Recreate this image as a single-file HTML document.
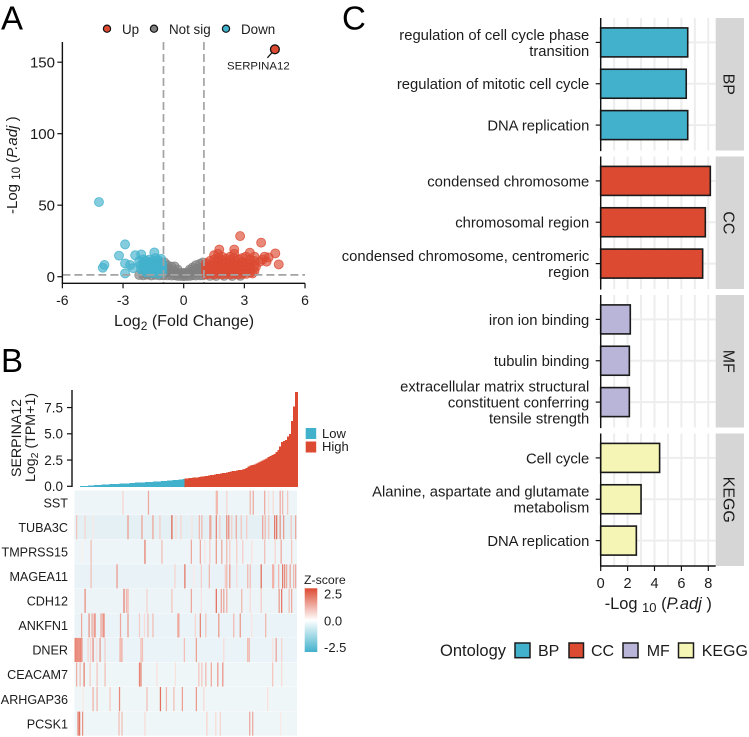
<!DOCTYPE html>
<html lang="en">
<head>
<meta charset="utf-8">
<title>Multi-panel SERPINA12 figure</title>
<style>
html,body{margin:0;padding:0;background:#fff;}
svg{display:block;font-family:"Liberation Sans",sans-serif;fill:#1c1c1c;}
</style>
</head>
<body>
<svg id="fig" xmlns="http://www.w3.org/2000/svg" width="749" height="737" viewBox="0 0 749 737">
  <rect x="0" y="0" width="749" height="737" fill="#fff"/>
  <text x="1" y="29.5" font-size="33" fill="#000">A</text>
  <text x="1" y="372" font-size="33" fill="#000">B</text>
  <text x="342" y="29.5" font-size="33" fill="#000">C</text>

  <g id="volcano"></g>
  <g font-size="13.4">
    <circle cx="107" cy="28.7" r="3.6" fill="#dc4a32" stroke="#111" stroke-width="1.2"/>
    <text x="122" y="34">Up</text>
    <circle cx="154" cy="28.7" r="3.6" fill="#808080" stroke="#111" stroke-width="1.2"/>
    <text x="169" y="34">Not sig</text>
    <circle cx="226" cy="28.7" r="3.6" fill="#42b1cc" stroke="#111" stroke-width="1.2"/>
    <text x="241" y="34">Down</text>
  </g>
  <text x="227" y="69.3" font-size="11.4">SERPINA12</text>
  <text x="114" y="326" font-size="16">Log<tspan font-size="12" dy="4">2</tspan><tspan dy="-4"> (Fold Change)</tspan></text>
  <text transform="translate(17,214) rotate(-90)" font-size="15">-Log <tspan font-size="11.5" dy="3">10</tspan><tspan dy="-3"> (</tspan><tspan font-style="italic">P.adj</tspan> )</text>

  <g id="expr"></g>
  <text transform="translate(21,477) rotate(-90)" font-size="14.2">SERPINA12</text>
  <text transform="translate(35,482) rotate(-90)" font-size="14.2">Log<tspan font-size="10.5" dy="3">2</tspan><tspan dy="-3"> (TPM+1)</tspan></text>
  <g font-size="13">
    <rect x="305.7" y="428" width="10.5" height="11" fill="#42b1cc"/>
    <rect x="305.7" y="441.5" width="10.5" height="11" fill="#dc4a32"/>
    <text x="322" y="438">Low</text>
    <text x="322" y="451">High</text>
  </g>

  <g id="heat"></g>
  <defs>
    <linearGradient id="zGrad" x1="0" y1="0" x2="0" y2="1">
      <stop offset="0" stop-color="#dc4a32"/>
      <stop offset="0.5" stop-color="#ffffff"/>
      <stop offset="1" stop-color="#42b1cc"/>
    </linearGradient>
  </defs>
  <g>
    <text x="304" y="584" font-size="12.3">Z-score</text>
    <rect x="304.7" y="588.3" width="12.6" height="63.7" fill="url(#zGrad)"/>
    <g font-size="13">
      <text x="324" y="598.5">2.5</text>
      <text x="324" y="625.5">0.0</text>
      <text x="324" y="652">-2.5</text>
    </g>
  </g>

  <g id="enrich"></g>
  <text x="604.7" y="609" font-size="16.4">-Log <tspan font-size="13" dy="3">10</tspan><tspan dy="-3"> (</tspan><tspan font-style="italic">P.adj</tspan> )</text>
  <g font-size="16">
    <text x="440" y="656" font-size="16.5">Ontology</text>
    <rect x="515" y="643" width="15" height="14.7" fill="#42b1cc" stroke="#1c1c1c" stroke-width="1.5"/>
    <text x="538" y="656">BP</text>
    <rect x="569" y="643" width="14.5" height="14.7" fill="#dc4a32" stroke="#1c1c1c" stroke-width="1.5"/>
    <text x="591" y="656">CC</text>
    <rect x="623" y="643" width="15" height="14.7" fill="#b9b5d8" stroke="#1c1c1c" stroke-width="1.5"/>
    <text x="646.7" y="656">MF</text>
    <rect x="678.5" y="643" width="15" height="14.7" fill="#f5f5b5" stroke="#1c1c1c" stroke-width="1.5"/>
    <text x="701.7" y="656">KEGG</text>
  </g>
</svg>

<script>
/* ---------- Panel A data: [log2FC, -log10 padj] ---------- */
const volcanoXTicks = [-6, -3, 0, 3, 6];
const volcanoYTicks = [0, 50, 100, 150];
const fcThresholds = [-1, 1];
const padjThreshold = 1.3;
const labelledPoint = [4.51, 159];
const notSigPoints = [
[-2.2,1.2],[-2,1],[-1.8,1.4],[-1.6,0.9],[-1.4,1.2],[-1.2,1],
[-1,1],[-1,3],[-1,5],[-1,7.5],[-0.95,10],[-0.8,1],[-0.8,3],[-0.8,5.5],[-0.8,8],
[-0.6,0.8],[-0.6,3],[-0.6,5],[-0.6,7],[-0.45,1],[-0.45,3.5],[-0.45,7.2],
[-0.3,0.6],[-0.3,2.5],[-0.3,5],[-0.15,0.5],[-0.15,2.5],[0,0.4],[0,1.8],[0,2.7],
[0.15,0.5],[0.15,2.5],[0.3,0.6],[0.3,3.5],[0.3,5],[0.45,1],[0.45,3.5],[0.45,6.5],
[0.6,0.8],[0.6,3],[0.6,5.5],[0.6,8],[0.8,1],[0.8,3.5],[0.8,6],[0.8,9],[0.95,1],[0.95,3.5],[0.95,6],[0.95,10],
[1.3,0.6],[1.6,0.5],[2,0.6],[2.4,0.5],[2.8,0.6]
];
const downPoints = [
[-4.19,52.2],[-2.9,22.6],[-3.2,14.7],[-2.9,9.3],[-2.9,2.3],[-3.92,8.2],[-4,6.3],[-2.65,8.2],[-2.4,15],[-2.1,15.6],[-1.45,17],
[-2.5,6],[-2.2,11],[-2.15,8],[-2.1,5],[-2,12],[-2,9.5],[-2,7],[-2,4],
[-1.85,11],[-1.85,8.5],[-1.85,6],[-1.85,3],[-1.7,12],[-1.7,9.5],[-1.7,7],[-1.7,4.5],
[-1.55,11],[-1.55,8.5],[-1.55,5.5],[-1.55,2.5],[-1.4,13],[-1.4,10],[-1.4,7],[-1.4,4],
[-1.25,11.5],[-1.25,9],[-1.25,6],[-1.25,2],[-1.12,12.5],[-1.12,10],[-1.12,7.5],[-1.12,4.5],[-1.05,9],[-1.05,6],[-1.05,3]
];
const upPoints = [
[2.79,28.4],[3.83,23.8],[4.53,16.3],[4.7,8.6],[1.76,19],[2.5,19],[3.27,16.8],[4,14],[3.78,10.5],[3.5,14],[3.07,14],[3.4,2.3],[3.57,7],[4.1,10.5],[3.9,12],[4.2,13.5],
[1.1,1.5],[1.1,4],[1.1,7],[1.1,9.5],[1.3,2],[1.3,5],[1.3,8],[1.3,11],
[1.5,1.5],[1.5,4],[1.5,6.5],[1.5,9],[1.5,12],[1.5,15],[1.7,2],[1.7,5],[1.7,7.5],[1.7,10.5],[1.7,13],[1.7,16],
[1.9,1.5],[1.9,3.5],[1.9,6],[1.9,9],[1.9,11.5],[1.9,14],[2.1,2],[2.1,4.5],[2.1,7],[2.1,10],[2.1,12.5],
[2.3,1.5],[2.3,4],[2.3,6.5],[2.3,9],[2.3,11.5],[2.3,14],[2.5,2],[2.5,5],[2.5,7.5],[2.5,10],[2.5,13],[2.5,16],
[2.7,1.5],[2.7,4],[2.7,6.5],[2.7,9],[2.7,12],[2.9,2],[2.9,5],[2.9,8],[2.9,10.5],[2.9,13],
[3.1,2],[3.1,4.5],[3.1,7.5],[3.1,10],[3.3,3],[3.3,6],[3.3,9],[3.3,12],[3.5,4],[3.5,8],[3.5,11]
];

/* ---------- Panel B bars: expression per ordered sample bin ---------- */
const lowExpression = [0.01,0.02,0.04,0.05,0.07,0.08,0.10,0.11,0.12,0.13,0.14,0.16,0.17,0.18,0.19,0.20,0.21,0.22,0.23,0.24,0.25,0.26,0.27,0.28,0.29,0.30,0.31,0.33,0.34,0.35,0.36,0.37,0.38,0.39,0.40,0.42,0.43,0.44,0.45,0.47,0.48,0.50,0.51,0.52,0.54,0.55,0.57,0.58,0.60,0.62,0.64,0.67,0.71];
const highExpression = [0.73,0.75,0.77,0.79,0.82,0.84,0.86,0.88,0.91,0.94,0.97,1.0,1.03,1.06,1.09,1.13,1.16,1.18,1.21,1.25,1.28,1.32,1.36,1.40,1.44,1.47,1.5,1.53,1.56,1.6,1.66,1.75,1.9,2.0,2.05,2.1,2.15,2.25,2.35,2.45,2.55,2.65,2.8,2.9,3.0,3.1,3.25,3.45,3.8,4.2,4.3,4.4,4.75,5.0,6.2,7.6,9.0];
const exprTicks = ["0.0","2.5","5.0","7.5"];

/* ---------- Panel B heatmap: baseline z per gene and [sample, z] for raised samples ---------- */
const geneNames = ["SST","TUBA3C","TMPRSS15","MAGEA11","CDH12","ANKFN1","DNER","CEACAM7","ARHGAP36","PCSK1"];
const geneBaseline = [-0.24,-0.36,-0.24,-0.3,-0.26,-0.28,-0.28,-0.22,-0.22,-0.22];
const sstZ = [[48,0.6],[73.5,1.2],[141.5,1],[142.5,1],[152,0.6],[175.5,1],[178.5,1.2],[190,1.2],[194,0.4],[198.5,0.5],[205.5,1.2],[208,1],[213,0.8]];
const tuba3cZ = [[1.5,0.8],[10,0.6],[18,0.3],[53,1.4],[67,1.3],[78,1.3],[85,0.7],[97,2.2],[101,0.5],[106,0.6],[117,0.4],[124.5,1],[127,1],[135,1.2],[136,1.2],[141.5,1.7],[145,0.7],[152,1.6],[154,1.6],[157,0.7],[161.5,1.2],[166.5,0.8],[172,0.7],[188,1.3],[190.5,1],[194,0.8],[200,1.9],[202,1.9],[205.5,1.5],[209,1.4],[216.5,0.8],[221,1.2]];
const tmprss15Z = [[7,0.2],[16,0.9],[70,1.8],[87,0.9],[116.5,1.2],[125.5,1.2],[130,0.4],[135,0.7],[141.5,1.4],[147,1.2],[152,1],[155,0.7],[162,0.7],[168,0.7],[177,0.4],[190,0.9],[200.5,0.6],[206.5,1.2],[217,0.8]];
const magea11Z = [[16,0.9],[42,1.4],[100,0.6],[110,1.9],[119,0.3],[126.5,0.7],[134.5,1],[150.5,0.7],[152,1],[155,1.4],[162,0.5],[173,1],[175.5,0.9],[186.5,2],[198,1.1],[199,1.1],[204,1],[208,1.9],[210,1.6],[212,1.2],[215.5,1.3],[219,1],[221,1.2]];
const cdh12Z = [[10,1.6],[49,1.8],[51.5,1],[53,1],[72,0.6],[97,0.8],[116.5,1.2],[126.5,0.4],[141.5,2],[146.5,1.3],[149,1.3],[152,1.1],[167,1],[175.5,0.5],[186.5,0.7],[204.5,1.4],[207,1.9],[214.5,0.9],[217,1.2]];
const ankfn1Z = [[6.5,1.2],[14,1.5],[17,1.2],[19,1.2],[20,1.5],[26,1.3],[28,1.5],[29,1.5],[45.5,1.2],[53,1.4],[64.5,0.7],[69.5,0.5],[73,0.9],[78,0.9],[103,1.2],[104,1.2],[120.5,0.6],[125.5,1.7],[131,0.8],[144,1.4],[159,1],[165.5,1.4],[177,0.4],[191,1]];
const dnerZ = [[0,1.7],[1,1.7],[2,1.4],[3,1.7],[4,1.3],[5,1.7],[6,1.6],[7,1.2],[13,0.6],[15.5,0.6],[18,1.6],[21.5,0.4],[25,1.4],[30,0.7],[45,1],[46,0.9],[47,1],[66,0.9],[67.5,0.9],[109.5,0.9],[121.5,1.3],[149,0.5],[173,1],[174.5,1],[198,0.4],[201.5,1.3],[207,0.6]];
const ceacam7Z = [[1.5,1.1],[5,0.9],[9,1.8],[15,0.7],[22,0.8],[30,0.9],[64.5,1.7],[66,1.7],[82,0.4],[100.5,0.4],[124,0.8],[127,0.8],[131,1],[136.5,1.2],[143,1.4],[148,1.5],[198,0.8],[207,0.5]];
const arhgap36Z = [[8,0.3],[18,1.1],[22,1],[35,0.7],[44.5,1.6],[72,0.9],[85.5,2],[91.5,1],[99,0.9],[107.5,1.3],[121.5,1.4],[129,0.5],[193,0.4]];
const pcsk1Z = [[3,1.9],[4.5,1.9],[7.5,1.5],[44,0.9],[47,0.9],[70,0.5],[132,0.6],[141,0.5],[145.5,0.6],[175,1.2],[178,1.2],[206,0.3]];
const geneRows = [sstZ,tuba3cZ,tmprss15Z,magea11Z,cdh12Z,ankfn1Z,dnerZ,ceacam7Z,arhgap36Z,pcsk1Z];

/* ---------- Panel C data ---------- */
const facetNames = ["BP","CC","MF","KEGG"];
const termLabels = [
  [["regulation of cell cycle phase","transition"],["regulation of mitotic cell cycle"],["DNA replication"]],
  [["condensed chromosome"],["chromosomal region"],["condensed chromosome, centromeric","region"]],
  [["iron ion binding"],["tubulin binding"],["extracellular matrix structural","constituent conferring","tensile strength"]],
  [["Cell cycle"],["Alanine, aspartate and glutamate","metabolism"],["DNA replication"]]
];
const termValues = [[6.47,6.36,6.47],[8.15,7.78,7.58],[2.2,2.13,2.13],[4.38,3.0,2.65]];
const enrichTicks = [0,2,4,6,8];
const gridUnits = [0,1,2,3,4,5,6,7,8];

/* ---------- helpers ---------- */
const NS = "http://www.w3.org/2000/svg";
function mk(tag, attrs, parent, text) {
  const e = document.createElementNS(NS, tag);
  for (const k in attrs) e.setAttribute(k, attrs[k]);
  if (text !== undefined) e.textContent = text;
  parent.appendChild(e);
  return e;
}
const INK = "#111";

/* ---------- Panel A ---------- */
(function () {
  const g = document.getElementById("volcano");
  const sx = v => 183.7 + v * 20.22;
  const sy = v => 276.7 - v * 1.43;
  const bottom = 283.3, top = 42, left = sx(-6), right = sx(6);

  function drawPoints(list, color, name) {
    for (const p of list) {
      const c = mk("circle", {cx: sx(p[0]), cy: sy(p[1]), r: 4.5, fill: color, "fill-opacity": 0.65, stroke: color, "stroke-opacity": 0.8, "stroke-width": 0.9}, g);
      
      
    }
  }
  drawPoints(notSigPoints, "#808080", "point-not-sig");
  drawPoints(downPoints, "#42b1cc", "point-down");
  drawPoints(upPoints, "#dc4a32", "point-up");

  for (const t of fcThresholds) {
    const l = mk("line", {x1: sx(t), x2: sx(t), y1: top, y2: bottom, stroke: "#a3a3a3", "stroke-width": 1.7, "stroke-dasharray": "8 4"}, g);
    
    
  }
  const h = mk("line", {x1: left, x2: right, y1: sy(padjThreshold), y2: sy(padjThreshold), stroke: "#a3a3a3", "stroke-width": 1.7, "stroke-dasharray": "8 4"}, g);
  
  

  const ya = mk("line", {x1: left, x2: left, y1: top, y2: bottom + 0.6, stroke: INK, "stroke-width": 1.4}, g);
  
  
  const xa = mk("line", {x1: left, x2: right, y1: bottom, y2: bottom, stroke: INK, "stroke-width": 1.4}, g);
  
  

  for (const t of volcanoXTicks) {
    const l = mk("line", {x1: sx(t), x2: sx(t), y1: bottom, y2: bottom + 5, stroke: INK, "stroke-width": 1.2}, g);
    
    
    const x = mk("text", {x: sx(t), y: 305, "font-size": 14, "text-anchor": "middle"}, g, String(t));
    
    
  }
  for (const t of volcanoYTicks) {
    const l = mk("line", {x1: left - 5, x2: left, y1: sy(t), y2: sy(t), stroke: INK, "stroke-width": 1.2}, g);
    
    
    const y = mk("text", {x: 55, y: sy(t) + 5.2, "font-size": 15, "text-anchor": "end"}, g, String(t));
    
    
  }
  const px = sx(labelledPoint[0]), py = sy(labelledPoint[1]);
  const seg = mk("line", {x1: px, y1: py, x2: px - 7.5, y2: py + 8.5, stroke: "#111", "stroke-width": 1.2}, g);
  
  
  const pt = mk("circle", {cx: px, cy: py, r: 4.4, fill: "#dc4a32", stroke: "#111", "stroke-width": 1.3}, g);
  
  
})();

/* ---------- Panel B bars ---------- */
(function () {
  const g = document.getElementById("expr");
  const sy = v => 486.3 - v * 10.5;
  const values = lowExpression.concat(highExpression);
  const x0 = 80, binW = (297 - x0) / values.length;
  values.forEach((v, i) => {
    const isLow = i < lowExpression.length;
    const r = mk("rect", {x: x0 + i * binW, y: sy(v), width: binW + 0.8, height: sy(0) - sy(v) + 0.6,
      fill: isLow ? "#42b1cc" : "#dc4a32", "shape-rendering": "crispEdges"}, g);
    
    
  });
  const a = mk("line", {x1: 72, x2: 72, y1: 390, y2: 487, stroke: INK, "stroke-width": 1.4}, g);
  
  
  for (const t of exprTicks) {
    const yy = sy(parseFloat(t));
    const l = mk("line", {x1: 67, x2: 72, y1: yy, y2: yy, stroke: INK, "stroke-width": 1.2}, g);
    
    
    const x = mk("text", {x: 63, y: yy + 4.8, "font-size": 13.5, "text-anchor": "end"}, g, t);
    
    
  }
})();

/* ---------- Panel B heatmap ---------- */
(function () {
  const g = document.getElementById("heat");
  const hi = [220, 74, 50], lo = [70, 150, 180];
  function zColor(z) {
    const t = Math.min(1, Math.abs(z) / 2.5), c = z >= 0 ? hi : lo;
    return "rgb(" + c.map(v => Math.round(255 + (v - 255) * t)).join(",") + ")";
  }
  const sxS = i => 74.5 + i * (222.5 / 223);
  const rowH = 24.55, y0 = 490.6;
  geneNames.forEach((name, r) => {
    const y = y0 + r * rowH;
    const bg = mk("rect", {x: sxS(0), y: y, width: sxS(223) - sxS(0), height: rowH - 0.4, fill: zColor(geneBaseline[r])}, g);
    
    
    for (const s of geneRows[r]) {
      const c = mk("rect", {x: sxS(s[0]), y: y, width: 1.25, height: rowH - 0.4, fill: zColor(s[1])}, g);
      
      
    }
    const t = mk("text", {x: 68, y: y + rowH / 2 + 4.5, "font-size": 12.6, "text-anchor": "end"}, g, name);
    
    
  });
})();

/* ---------- Panel C ---------- */
(function () {
  const g = document.getElementById("enrich");
  const sx = v => 600.7 + v * 13.45;
  const panelRight = 715.7, panelH = 132.5, barH = 29;
  const facetTop = f => 18 + f * 138.5;
  const barC = (f, b) => facetTop(f) + 24.4 + b * 41.35;
  const colors = ["#42b1cc", "#dc4a32", "#b9b5d8", "#f5f5b5"];
  facetNames.forEach((name, f) => {
    const top = facetTop(f), bot = top + panelH;
    for (const u of gridUnits) {
      const l = mk("line", {x1: sx(u), x2: sx(u), y1: top, y2: bot, stroke: "#ededed", "stroke-width": 2}, g);
      
      
    }
    termValues[f].forEach((v, b) => {
      const c = barC(f, b);
      const gl = mk("line", {x1: sx(0), x2: panelRight, y1: c, y2: c, stroke: "#ededed", "stroke-width": 2}, g);
      
      
    });
    termValues[f].forEach((v, b) => {
      const c = barC(f, b);
      const r = mk("rect", {x: sx(0), y: c - barH / 2, width: sx(v) - sx(0), height: barH, fill: colors[f], stroke: "#1a1a1a", "stroke-width": 1.6}, g);
      
      
      const tk = mk("line", {x1: sx(0) - 5, x2: sx(0), y1: c, y2: c, stroke: INK, "stroke-width": 1.2}, g);
      
      
      const lines = termLabels[f][b];
      lines.forEach((ln, k) => {
        const base = c + 5.4 + (k - (lines.length - 1) / 2) * 16;
        const t = mk("text", {x: 589.3, y: base, "font-size": 14.8, "text-anchor": "end"}, g, ln);
        
        
      });
    });
    const ax = mk("line", {x1: sx(0), x2: sx(0), y1: top, y2: bot + 0.6, stroke: INK, "stroke-width": 1.4}, g);
    
    
    const st = mk("rect", {x: panelRight, y: top, width: 28.3, height: panelH, fill: "#d6d6d6"}, g);
    
    
    const cy = top + panelH / 2;
    const lab = mk("text", {transform: "translate(723.5," + cy + ") rotate(90)", "font-size": 16, "text-anchor": "middle"}, g, name);
    
    
  });
  const axisY = facetTop(3) + panelH;
  const xa = mk("line", {x1: sx(0), x2: panelRight, y1: axisY, y2: axisY, stroke: INK, "stroke-width": 1.4}, g);
  
  
  for (const t of enrichTicks) {
    const l = mk("line", {x1: sx(t), x2: sx(t), y1: axisY, y2: axisY + 5, stroke: INK, "stroke-width": 1.2}, g);
    
    
    const x = mk("text", {x: sx(t), y: 588, "font-size": 14.5, "text-anchor": "middle"}, g, String(t));
    
    
  }
})();
</script>
</body>
</html>
